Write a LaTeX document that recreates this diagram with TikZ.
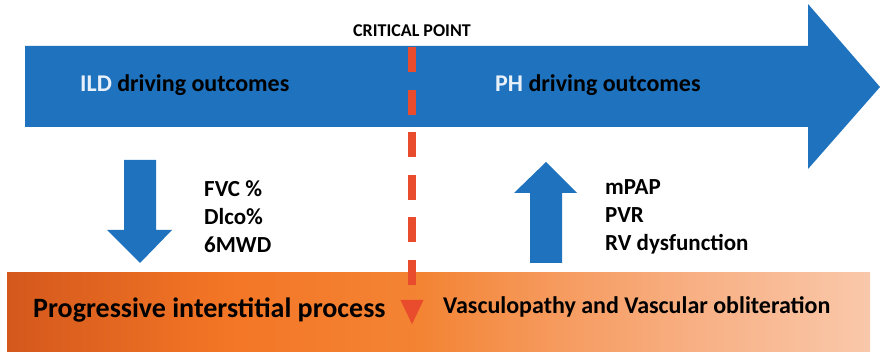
\documentclass[tikz,border=0pt]{standalone}
\usepackage{fontspec}
\setmainfont{Carlito}
\usepackage{xcolor}
\usepackage{tikz}
\usetikzlibrary{arrows.meta}

\definecolor{ArrowBlue}{RGB}{30,114,190}
\definecolor{CritRed}{RGB}{232,76,44}
\definecolor{PaleText}{RGB}{232,240,250}
\definecolor{BarA}{RGB}{212,88,28}
\definecolor{BarB}{RGB}{243,118,38}
\definecolor{BarC}{RGB}{243,132,52}
\definecolor{BarD}{RGB}{246,155,95}
\definecolor{BarE}{RGB}{248,176,132}
\definecolor{BarF}{RGB}{249,200,170}

\pgfdeclarehorizontalshading{procbar}{100bp}{color(0bp)=(BarA); color(25bp)=(BarA);
  color(37.7bp)=(BarB); color(49bp)=(BarC); color(57bp)=(BarD); color(65bp)=(BarE);
  color(75bp)=(BarF); color(100bp)=(BarF)}

\begin{document}
\begin{tikzpicture}[
  x=1pt, y=-1pt,
  bartext/.style={font=\fontsize{24}{28}\selectfont\bfseries, inner sep=0pt, anchor=west},
  listtext/.style={font=\fontsize{23}{28}\selectfont\bfseries, inner sep=0pt, anchor=west, align=left},
  critline/.style={CritRed, line width=8pt, dash pattern=on 25pt off 17.5pt,
    -{Triangle[width=21pt,length=25pt]}},
]
\useasboundingbox (0,0) rectangle (880,352);

% process bar
\shade[shading=procbar] (7,273) rectangle (870,352);

% time arrow
\fill[ArrowBlue] (25,46) -- (808,46) -- (808,4) -- (880,87) -- (808,169)
  -- (808,127) -- (25,127) -- cycle;

% falling / rising markers
\fill[ArrowBlue] (124,160) -- (156,160) -- (156,230) -- (172,230) -- (140,263)
  -- (107,230) -- (124,230) -- cycle;
\fill[ArrowBlue] (530,263) -- (562,263) -- (562,193) -- (577,193) -- (546,162)
  -- (514,193) -- (530,193) -- cycle;

\node[font=\fontsize{18}{20}\selectfont\bfseries, inner sep=0pt, anchor=south]
  (crit) at (412,37) {CRITICAL POINT};
\coordinate (critend) at (412,325);

\node[bartext] (ild) at (80,85) {\textcolor{PaleText}{ILD} driving outcomes};
\node[bartext] (ph) at (495,85) {\textcolor{PaleText}{PH} driving outcomes};

\node[listtext] (ildlist) at (204,217) {FVC \%\\Dlco\%\\6MWD};
\node[listtext] (phlist) at (605,217) {mPAP\\PVR\\RV dysfunction};

\node[font=\fontsize{28}{32}\selectfont\bfseries, inner sep=0pt, anchor=west]
  (ipf) at (33,310) {Progressive interstitial process};
\node[bartext] (vasc) at (443,307) {Vasculopathy and Vascular obliteration};

\draw[critline, shorten <=10.5pt] (crit.south) -- (critend);
%\draw[help lines] (0,0) grid[step=50] (880,352);

\end{tikzpicture}
\end{document}
